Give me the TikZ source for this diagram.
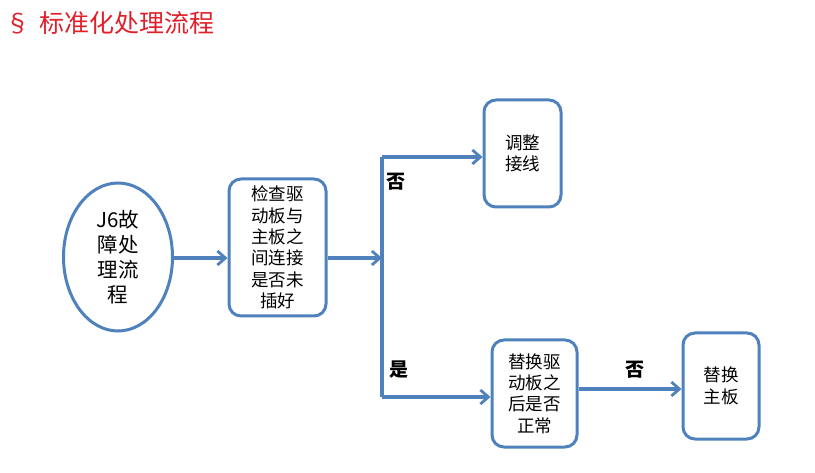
\documentclass[tikz,border=0pt]{standalone}
\usepackage{fontspec}
\newfontfamily\cjk{Noto Sans CJK SC}
\usetikzlibrary{arrows.meta,shapes.geometric}
\definecolor{flowblue}{HTML}{4F81BD}
\definecolor{titlered}{HTML}{E0202A}
\tikzset{
  box/.style={draw=flowblue, line width=3pt, rounded corners=12pt, align=center,
    inner sep=0pt, font=\cjk\fontsize{17.5}{21.4}\selectfont},
  link/.style={draw=flowblue, line width=3.2pt, -{Straight Barb[length=8pt,width=14pt,line width=2.8pt]}},
  answer/.style={font=\cjk\bfseries\fontsize{19}{22}\selectfont}
}
\begin{document}
\begin{tikzpicture}[x=1pt,y=-1pt]
  \useasboundingbox (0,0) rectangle (815,473);
  \node[anchor=west, text=titlered, font=\cjk\fontsize{25}{28}\selectfont] (title) at (2,23) {§\kern9pt标准化处理流程};
  \node[ellipse, draw=flowblue, line width=3pt, minimum width=109pt, minimum height=148pt,
    inner sep=0pt, align=center, font=\cjk\fontsize{20.5}{25}\selectfont] (start) at (118,257) {J6故\\障处\\理流\\程};
  \node[box, minimum width=97pt, minimum height=137pt] (check) at (277.5,247.5) {检查驱\\动板与\\主板之\\间连接\\是否未\\插好};
  \node[box, minimum width=77pt, minimum height=107pt] (adjust) at (522.5,153.5) {调整\\接线};
  \node[box, minimum width=85pt, minimum height=107pt] (swap) at (534.5,393.5) {替换驱\\动板之\\后是否\\正常};
  \node[box, minimum width=76pt, minimum height=106pt] (board) at (721,386) {替换\\主板};
  \coordinate (split) at (382,258);
  \coordinate (up) at (382,157);
  \coordinate (down) at (382,397);
  \node[answer] (no1) at (396,182) {否};
  \node[answer] (yes) at (399,370) {是};
  \node[answer] (no2) at (635,370) {否};
  \begin{scope}[link]
    \draw (start.east |- split) -- (check.west |- split);
    \draw (check.east |- split) -- (split);
    \draw (up) -- (adjust.west |- up);
    \draw (down) -- (swap.west |- down);
    \draw ([yshift=4.5pt]swap.east) -- ([yshift=4.5pt]swap.east -| board.west);
  \end{scope}
  \draw[draw=flowblue, line width=3.2pt] (up) -- (down);
\end{tikzpicture}
\end{document}
